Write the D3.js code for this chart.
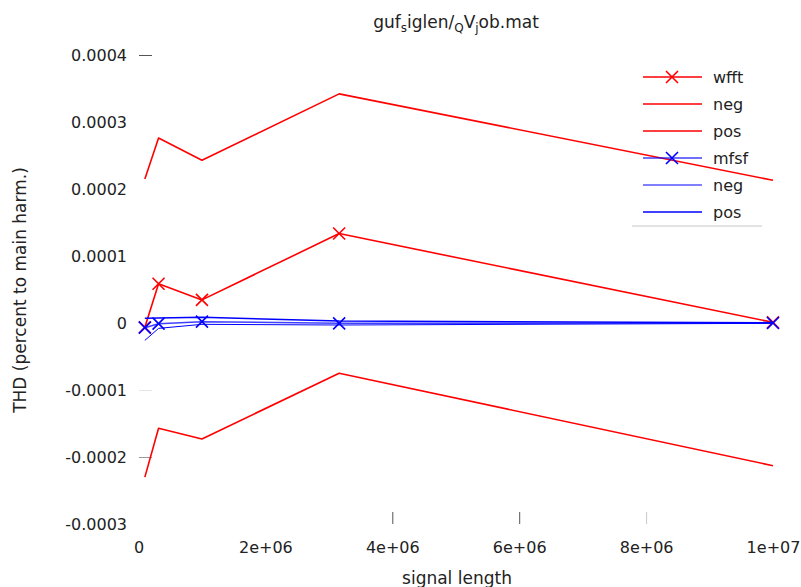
<!DOCTYPE html>
<html>
<head>
<meta charset="utf-8">
<script src="https://cdn.jsdelivr.net/npm/d3@7"></script>
<style>
  html, body { margin: 0; padding: 0; background: #fff; }
  svg { display: block; font-family: "DejaVu Sans", sans-serif; }
</style>
</head>
<body>
<svg id="chart" width="801" height="587"></svg>
<script>
// Signal lengths (samples)
const signalLength = [1e5, 316228, 1e6, 3162278, 1e7];

// THD estimates: mean and mean ± spread for each method
const wfftMean = [-0.0000065, 0.0000585, 0.0000345, 0.0001335, 0.0000010];
const wfftNeg  = [-0.0002300, -0.0001570, -0.0001730, -0.0000750, -0.0002130];
const wfftPos  = [ 0.0002150,  0.0002760,  0.0002430,  0.0003420,  0.0002130];

const mfsfMean = [-0.0000070, -0.0000010, 0.0000020, -0.0000005, 0.0000000];
const mfsfNeg  = [-0.0000260, -0.0000080, -0.0000020, -0.0000030, -0.0000005];
const mfsfPos  = [ 0.0000070,  0.0000075,  0.0000085,  0.0000030,  0.0000005];

const xTicks = [0, 2e6, 4e6, 6e6, 8e6, 1e7];
const xTickLabels = ["0", "2e+06", "4e+06", "6e+06", "8e+06", "1e+07"];
const yTicks = [0.0004, 0.0003, 0.0002, 0.0001, 0, -0.0001, -0.0002, -0.0003];
const yTickLabels = ["0.0004", "0.0003", "0.0002", "0.0001", "0", "-0.0001", "-0.0002", "-0.0003"];

const legendLabels = ["wfft", "neg", "pos", "mfsf", "neg", "pos"];

// tick mark stroke colours (none drawn where null)
const xTickStroke = [null, null, "#555", "#555", "#c8c8c8", null];
const yTickStroke = ["#555", null, null, null, null, "#e4e4e4", "#999", null];

const svg = d3.select("#chart");

const x = d3.scaleLinear().domain([0, 1e7]).range([138.5, 773]);
const y = d3.scaleLinear().domain([-0.0003, 0.0004]).range([524, 55]);

// title with subscripts
const title = svg.append("text")
  .attr("x", 456).attr("y", 28)
  .attr("text-anchor", "middle")
  .attr("font-size", 17)
  .attr("fill", "#222");
title.append("tspan").text("guf");
title.append("tspan").attr("font-size", 12).attr("dy", 4).text("s");
title.append("tspan").attr("dy", -4).text("iglen/");
title.append("tspan").attr("font-size", 12).attr("dy", 4).text("Q");
title.append("tspan").attr("dy", -4).text("V");
title.append("tspan").attr("font-size", 12).attr("dy", 4).text("j");
title.append("tspan").attr("dy", -4).text("ob.mat");

// x axis
const xAxis = d3.axisBottom(x)
  .tickValues(xTicks)
  .tickFormat((d, i) => xTickLabels[i])
  .tickSize(0)
  .tickPadding(0);
const gx = svg.append("g").attr("transform", "translate(0,524)").call(xAxis);
gx.select(".domain").remove();
gx.selectAll(".tick text")
  .attr("y", 18)
  .attr("font-size", 16)
  .attr("font-family", "DejaVu Sans, sans-serif")
  .attr("fill", "#222");
gx.selectAll(".tick").each(function(d, i) {
  if (xTickStroke[i]) {
    d3.select(this).append("line")
      .attr("x1", 0).attr("x2", 0).attr("y1", -12).attr("y2", 0)
      .attr("stroke", xTickStroke[i]).attr("stroke-width", 1);
  }
});

// y axis
const yAxis = d3.axisLeft(y)
  .tickValues(yTicks)
  .tickFormat((d, i) => yTickLabels[i])
  .tickSize(0)
  .tickPadding(0);
const gy = svg.append("g").attr("transform", "translate(127,0)").call(yAxis);
gy.select(".domain").remove();
gy.selectAll(".tick text")
  .attr("x", 0)
  .attr("font-size", 16)
  .attr("font-family", "DejaVu Sans, sans-serif")
  .attr("fill", "#222");
gy.selectAll(".tick").each(function(d, i) {
  if (yTickStroke[i]) {
    d3.select(this).append("line")
      .attr("x1", 12).attr("x2", 25).attr("y1", 0).attr("y2", 0)
      .attr("stroke", yTickStroke[i]).attr("stroke-width", 1);
  }
});

// axis titles
svg.append("text")
  .attr("x", 457).attr("y", 584)
  .attr("text-anchor", "middle")
  .attr("font-size", 17)
  .attr("fill", "#222")
  .text("signal length");
svg.append("text")
  .attr("transform", "translate(26,290) rotate(-90)")
  .attr("text-anchor", "middle")
  .attr("font-size", 17)
  .attr("fill", "#222")
  .text("THD (percent to main harm.)");

// series
const series = [
  { values: wfftMean, color: "#ff0000", width: 1.6, marker: true, opacity: 1 },
  { values: wfftNeg,  color: "#ff0000", width: 1.6, marker: false, opacity: 1 },
  { values: wfftPos,  color: "#ff0000", width: 1.6, marker: false, opacity: 1 },
  { values: mfsfMean, color: "#0000ff", width: 1.5, marker: true, opacity: 0.75 },
  { values: mfsfNeg,  color: "#0000ff", width: 1.0, marker: false, opacity: 1 },
  { values: mfsfPos,  color: "#0000ff", width: 1.5, marker: false, opacity: 1 }
];

const line = d3.line()
  .x((d, i) => x(signalLength[i]))
  .y(d => y(d));

const ms = 6; // half-size of the cross markers
function cross(g, cx, cy, color) {
  g.append("path")
    .attr("d", `M${cx - ms},${cy - ms}L${cx + ms},${cy + ms}M${cx - ms},${cy + ms}L${cx + ms},${cy - ms}`)
    .attr("stroke", color).attr("stroke-width", 1.6).attr("fill", "none");
}

const plot = svg.append("g");
series.forEach(s => {
  plot.append("path")
    .datum(s.values)
    .attr("d", line)
    .attr("fill", "none")
    .attr("stroke", s.color)
    .attr("stroke-width", s.width)
    .attr("stroke-opacity", s.opacity)
    .attr("stroke-linejoin", "round");
  if (s.marker) {
    s.values.forEach((v, i) => cross(plot, x(signalLength[i]), y(v), s.color));
  }
});

// legend
const legend = svg.append("g");
const rowY = d3.scalePoint().domain(d3.range(legendLabels.length)).range([77, 212]);
legendLabels.forEach((label, i) => {
  const s = series[i];
  const ly = rowY(i);
  legend.append("line")
    .attr("x1", 643).attr("x2", 702).attr("y1", ly).attr("y2", ly)
    .attr("stroke", s.color)
    .attr("stroke-width", s.width)
    .attr("stroke-opacity", s.opacity);
  if (s.marker) cross(legend, 672, ly, s.color);
  legend.append("text")
    .attr("x", 713).attr("y", ly)
    .attr("dy", "0.35em")
    .attr("font-size", 16)
    .attr("fill", "#222")
    .text(label);
});
legend.append("line")
  .attr("x1", 632).attr("x2", 762).attr("y1", 226).attr("y2", 226)
  .attr("stroke", "#c8c8c8").attr("stroke-width", 1.2);
</script>
</body>
</html>
